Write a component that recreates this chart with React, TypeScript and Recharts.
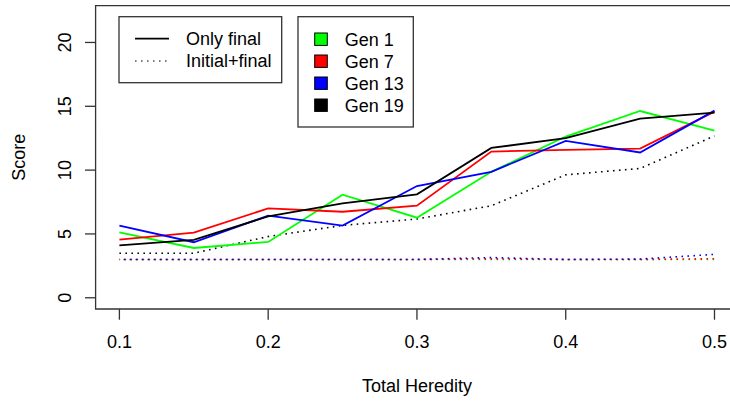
import { LineChart, Line, XAxis, YAxis, ReferenceArea, Customized } from 'recharts';

const FONT = '"Liberation Sans", Arial, Helvetica, sans-serif';

const heredity = [0.1, 0.15, 0.2, 0.25, 0.3, 0.35, 0.4, 0.45, 0.5];
const generations = ['Gen 1', 'Gen 7', 'Gen 13', 'Gen 19'];
const genColors = ['#00ff00', '#ff0000', '#0000ff', '#000000'];

// score when only the final state is selected on
const onlyFinal = [
  [5.13, 3.9, 4.37, 8.07, 6.27, 9.87, 12.63, 14.63, 13.1],
  [4.55, 5.1, 7.0, 6.74, 7.21, 11.45, 11.59, 11.69, 14.58],
  [5.65, 4.35, 6.43, 5.65, 8.75, 9.87, 12.29, 11.38, 14.66],
  [4.11, 4.53, 6.38, 7.39, 8.1, 11.74, 12.5, 14.03, 14.5],
];

// score when initial and final states are both selected on
const initialFinal = [
  [3, 3, 3, 3, 3, 3, 3, 3, 3],
  [3, 3, 3, 3, 3, 3.05, 3, 3, 3.06],
  [3, 3, 3, 3, 3, 3.15, 3, 3.03, 3.4],
  [3.49, 3.49, 4.8, 5.67, 6.17, 7.21, 9.63, 10.13, 12.68],
];

const xTicks = [0.1, 0.2, 0.3, 0.4, 0.5];
const yTicks = [0, 5, 10, 15, 20];
const xDomain: [number, number] = [0.084, 0.516];
const yDomain: [number, number] = [-0.88, 22.88];

const data = heredity.map((h, i) => {
  const row: Record<string, number> = { h };
  generations.forEach((_, g) => {
    row[`f${g}`] = onlyFinal[g][i];
    row[`i${g}`] = initialFinal[g][i];
  });
  return row;
});

const DOTTED = '1.6 4.4';
// dash phase per generation so overlapping dotted lines interleave
const dashOffsets = [0.9, 0.9, 1.8, 0];

const XTick = ({ x, y, payload }: any) => (
  <text x={x} y={y + 26} textAnchor="middle" fontSize={18} fontFamily={FONT} fill="#000">
    {payload.value}
  </text>
);

const YTick = ({ x, y, payload }: any) => (
  <text
    transform={`translate(${x - 12}, ${y}) rotate(-90)`}
    textAnchor="middle"
    fontSize={18}
    fontFamily={FONT}
    fill="#000"
  >
    {payload.value}
  </text>
);

// two boxed legends: line type, and generation colours
const Legends = () => (
  <g fontFamily={FONT} fontSize={18} fill="#000">
    <rect x={119} y={16.7} width={162.7} height={66} fill="#fff" stroke="#333" strokeWidth={1.3} />
    <line x1={135} x2={169} y1={38.7} y2={38.7} stroke="#000" strokeWidth={1.8} />
    <line x1={135} x2={169} y1={61} y2={61} stroke="#555" strokeWidth={1.3} strokeDasharray={DOTTED} />
    <text x={186} y={45}>Only final</text>
    <text x={186} y={67}>Initial+final</text>

    <rect x={298} y={16.7} width={115.3} height={110.3} fill="#fff" stroke="#333" strokeWidth={1.3} />
    {generations.map((name, g) => (
      <g key={name}>
        <rect
          x={314.7}
          y={39.2 + g * 22 - 6.2}
          width={12.6}
          height={12.4}
          fill={genColors[g]}
          stroke="#000"
          strokeWidth={1}
        />
        <text x={344.7} y={39.2 + g * 22 + 6.3}>{name}</text>
      </g>
    ))}
  </g>
);

const AxisTitles = () => (
  <g fontFamily={FONT} fontSize={18} fill="#000">
    <text x={417} y={392} textAnchor="middle">Total Heredity</text>
    <text transform="translate(25, 157.3) rotate(-90)" textAnchor="middle">Score</text>
  </g>
);

export default function App() {
  return (
    <div style={{ position: 'absolute', left: 0, top: 0, width: 730, height: 402, overflow: 'hidden', background: '#fff' }}>
      <LineChart
        width={745}
        height={402}
        data={data}
        margin={{ top: 5.7, right: 6.7, left: 0, bottom: 0 }}
      >
        <XAxis
          dataKey="h"
          type="number"
          domain={xDomain}
          ticks={xTicks}
          allowDataOverflow
          height={93}
          axisLine={false}
          tickLine={{ stroke: '#333', strokeWidth: 1.3 }}
          tickSize={10.7}
          tick={<XTick />}
        />
        <YAxis
          type="number"
          domain={yDomain}
          ticks={yTicks}
          allowDataOverflow
          width={95.6}
          axisLine={false}
          tickLine={{ stroke: '#333', strokeWidth: 1.3 }}
          tickSize={10.6}
          tick={<YTick />}
        />
        <ReferenceArea
          x1={xDomain[0]}
          x2={xDomain[1]}
          y1={yDomain[0]}
          y2={yDomain[1]}
          ifOverflow="visible"
          fill="none"
          fillOpacity={0}
          stroke="#333"
          strokeWidth={1.3}
        />
        {generations.map((name, g) => (
          <Line
            key={`i${g}`}
            dataKey={`i${g}`}
            name={`${name} initial+final`}
            type="linear"
            stroke={genColors[g]}
            strokeWidth={1.6}
            strokeDasharray={DOTTED}
            strokeDashoffset={dashOffsets[g]}
            dot={false}
            isAnimationActive={false}
          />
        ))}
        {generations.map((name, g) => (
          <Line
            key={`f${g}`}
            dataKey={`f${g}`}
            name={`${name} only final`}
            type="linear"
            stroke={genColors[g]}
            strokeWidth={1.8}
            dot={false}
            isAnimationActive={false}
          />
        ))}
        <Customized component={Legends} />
        <Customized component={AxisTitles} />
      </LineChart>
    </div>
  );
}
